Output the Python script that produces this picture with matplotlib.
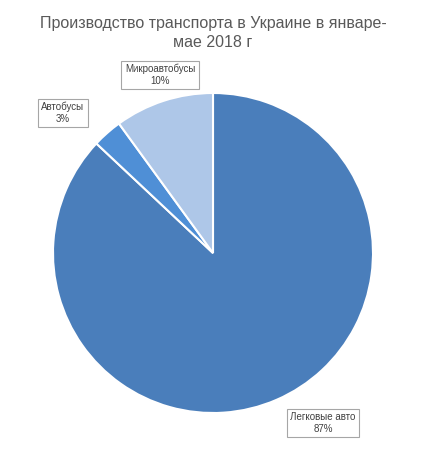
import matplotlib
matplotlib.use("Agg")
import matplotlib.pyplot as plt

categories = ["Легковые авто", "Автобусы", "Микроавтобусы"]
values = [87, 3, 10]
colors = ["#4A7EBB", "#4F8FD6", "#AEC7E8"]

W, H = 426, 454
fig = plt.figure(figsize=(W/100, H/100), dpi=100)
cx, cy, r = 213, 253, 160
ax = fig.add_axes([(cx-r)/W, (H-cy-r)/H, 2*r/W, 2*r/H])
ax.pie(values, colors=colors, startangle=90, counterclock=False,
       wedgeprops=dict(edgecolor="white", linewidth=1.5))
ax.set_xlim(-1, 1)
ax.set_ylim(-1, 1)
ax.set_aspect("equal")

fig.text(0.5, 1-33/H, "Производство транспорта в Украине в январе-\nмае 2018 г",
         ha="center", va="center", fontsize=11.5, color="#595959", linespacing=1.35,
         family="Liberation Sans")

labels = [("Легковые авто\n87%", 323, 423), ("Автобусы\n3%", 63, 113),
          ("Микроавтобусы\n10%", 160, 75)]
for (t, x, y), v in zip(labels, values):
    fig.text(x/W, 1-y/H, t, ha="center", va="center", fontsize=7, color="#404040",
             family="Liberation Sans",
             bbox=dict(boxstyle="square,pad=0.35", fc="white", ec="#A6A6A6", lw=0.8))

fig.savefig("out.png", dpi=100, facecolor="white")
